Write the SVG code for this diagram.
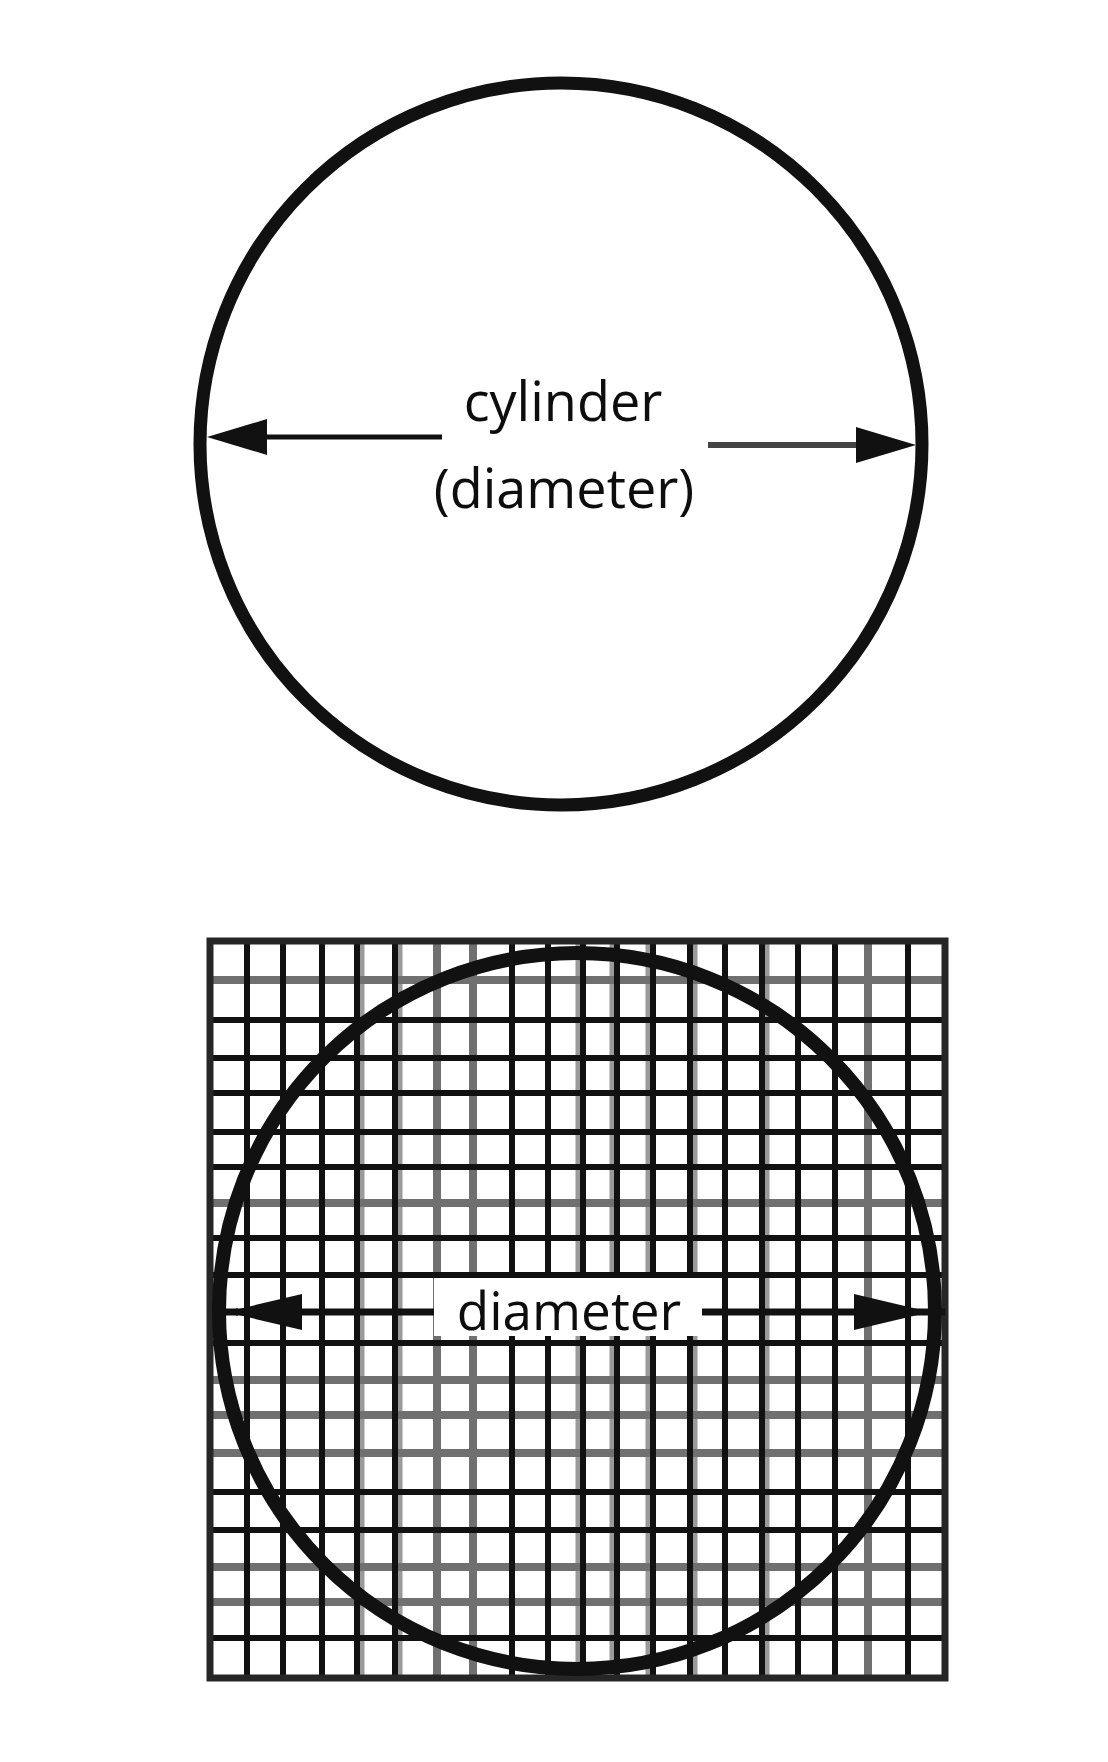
<svg xmlns="http://www.w3.org/2000/svg" width="1108" height="1762" viewBox="0 0 1108 1762">
<style>
.lbl{font-family:"Open Sans","Noto Sans","Liberation Sans",sans-serif;fill:#0d0d0d;text-anchor:middle}
.gb{stroke:#111;stroke-width:6}
.gg{stroke:#707070;stroke-width:8}
.gs{stroke:#9a9a9a;stroke-width:5}
</style>
<defs>
<marker id="ah" viewBox="0 0 60 36" refX="50" refY="18" markerWidth="60" markerHeight="36" markerUnits="userSpaceOnUse" orient="auto">
<path d="M0,0 L60,18 L0,36 Z" fill="#111"/>
</marker>
<marker id="ahg" viewBox="0 0 60 36" refX="50" refY="18" markerWidth="60" markerHeight="36" markerUnits="userSpaceOnUse" orient="auto">
<path d="M0,0 L60,18 L0,36 Z" fill="#111"/>
</marker>
<marker id="ah2" viewBox="0 0 76 36" refX="66" refY="18" markerWidth="76" markerHeight="36" markerUnits="userSpaceOnUse" orient="auto">
<path d="M0,0 L76,18 L0,36 Z" fill="#111"/>
</marker>
</defs>
<rect width="1108" height="1762" fill="#fff"/>

<g id="top-circle">
<circle cx="561" cy="444" r="361" fill="none" stroke="#111" stroke-width="13"/>
<text class="lbl" x="563" y="421" font-size="54">cylinder</text>
<text class="lbl" x="564" y="508" font-size="54">(diameter)</text>
</g>

<g id="grid-panel">
<g id="grid-shadows">
<line class="gs" x1="362" y1="941" x2="362" y2="1678"/>
<line class="gs" x1="400" y1="941" x2="400" y2="1678"/>
<line class="gs" x1="578" y1="941" x2="578" y2="1678"/>
<line class="gs" x1="612" y1="941" x2="612" y2="1678"/>
<line class="gs" x1="648" y1="941" x2="648" y2="1678"/>
<line class="gs" x1="695" y1="941" x2="695" y2="1678"/>
<line class="gs" x1="767" y1="941" x2="767" y2="1678"/>
</g>
<g id="grid-gray">
<line class="gg" x1="437" y1="941" x2="437" y2="1678"/>
<line class="gg" x1="473" y1="941" x2="473" y2="1678"/>
<line class="gg" x1="868" y1="941" x2="868" y2="1678"/>
<line class="gg" x1="210" y1="980" x2="945" y2="980"/>
<line class="gg" x1="210" y1="1203" x2="945" y2="1203"/>
<line class="gg" x1="210" y1="1380" x2="945" y2="1380"/>
<line class="gg" x1="210" y1="1415" x2="945" y2="1415"/>
<line class="gg" x1="210" y1="1453" x2="945" y2="1453"/>
<line class="gg" x1="210" y1="1567" x2="945" y2="1567"/>
<line class="gg" x1="210" y1="1602" x2="945" y2="1602"/>
</g>
<g id="grid-black">
<line class="gb" x1="247" y1="941" x2="247" y2="1678"/>
<line class="gb" x1="283" y1="941" x2="283" y2="1678"/>
<line class="gb" x1="322" y1="941" x2="322" y2="1678"/>
<line class="gb" x1="357" y1="941" x2="357" y2="1678"/>
<line class="gb" x1="395" y1="941" x2="395" y2="1678"/>
<line class="gb" x1="512" y1="941" x2="512" y2="1678"/>
<line class="gb" x1="548" y1="941" x2="548" y2="1678"/>
<line class="gb" x1="583" y1="941" x2="583" y2="1678"/>
<line class="gb" x1="617" y1="941" x2="617" y2="1678"/>
<line class="gb" x1="653" y1="941" x2="653" y2="1678"/>
<line class="gb" x1="690" y1="941" x2="690" y2="1678"/>
<line class="gb" x1="725" y1="941" x2="725" y2="1678"/>
<line class="gb" x1="762" y1="941" x2="762" y2="1678"/>
<line class="gb" x1="798" y1="941" x2="798" y2="1678"/>
<line class="gb" x1="835" y1="941" x2="835" y2="1678"/>
<line class="gb" x1="908" y1="941" x2="908" y2="1678"/>
<line class="gb" x1="210" y1="1020" x2="945" y2="1020"/>
<line class="gb" x1="210" y1="1058" x2="945" y2="1058"/>
<line class="gb" x1="210" y1="1093" x2="945" y2="1093"/>
<line class="gb" x1="210" y1="1132" x2="945" y2="1132"/>
<line class="gb" x1="210" y1="1167" x2="945" y2="1167"/>
<line class="gb" x1="210" y1="1238" x2="945" y2="1238"/>
<line class="gb" x1="210" y1="1275" x2="945" y2="1275"/>
<line class="gb" x1="210" y1="1343" x2="945" y2="1343"/>
<line class="gb" x1="210" y1="1492" x2="945" y2="1492"/>
<line class="gb" x1="210" y1="1530" x2="945" y2="1530"/>
<line class="gb" x1="210" y1="1638" x2="945" y2="1638"/>
</g>
<rect x="210" y="941" width="735" height="737" fill="none" stroke="#262626" stroke-width="7"/>
<circle cx="577" cy="1311" r="358" fill="none" stroke="#111" stroke-width="14"/>
</g>

<g id="connectors">
<line x1="442" y1="437" x2="217" y2="437" stroke="#111" stroke-width="5" marker-end="url(#ah)"/>
<line x1="708" y1="445" x2="906" y2="445" stroke="#444" stroke-width="6" marker-end="url(#ahg)"/>
<line x1="212" y1="1312" x2="238" y2="1312" stroke="#111" stroke-width="7"/>
<line x1="440" y1="1312" x2="236" y2="1312" stroke="#111" stroke-width="7" marker-end="url(#ah2)"/>
<line x1="700" y1="1312" x2="920" y2="1312" stroke="#111" stroke-width="7" marker-end="url(#ah2)"/>
<line x1="920" y1="1312" x2="945" y2="1312" stroke="#111" stroke-width="7"/>
</g>

<g id="bottom-label">
<rect x="434" y="1278" width="268" height="58" fill="#fff"/>
<text class="lbl" x="569" y="1330" font-size="53">diameter</text>
</g>
</svg>
